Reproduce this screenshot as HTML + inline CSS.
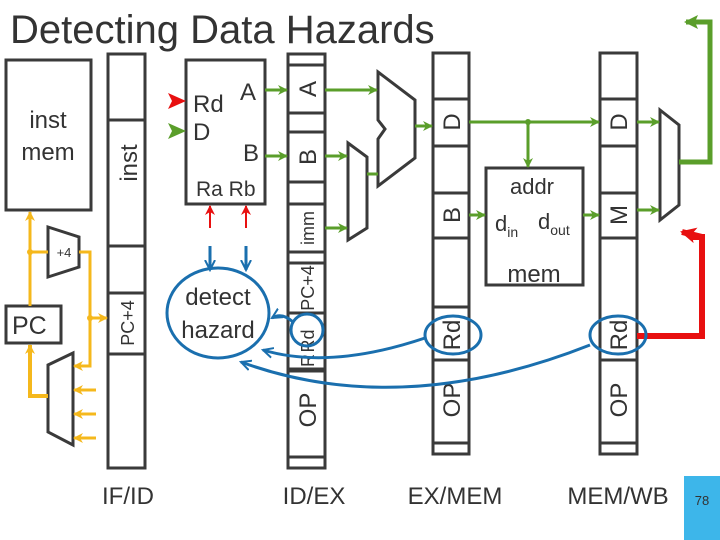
<!DOCTYPE html>
<html><head><meta charset="utf-8"><style>
html,body{margin:0;padding:0;background:#fff;}
svg{display:block;font-family:"Liberation Sans",Arial,sans-serif;}
</style></head><body>
<svg width="720" height="540" viewBox="0 0 720 540" xmlns="http://www.w3.org/2000/svg">
<defs>
<marker id="ag" markerWidth="10" markerHeight="10" refX="9" refY="5" orient="auto" markerUnits="userSpaceOnUse"><path d="M0,0 L10,5 L0,10 L3,5 z" fill="#5a9e2a"/></marker>
<marker id="ag2" markerWidth="14" markerHeight="14" refX="12" refY="7" orient="auto" markerUnits="userSpaceOnUse"><path d="M0,0 L14,7 L0,14 L3,7 z" fill="#5a9e2a"/></marker>
<marker id="ay" markerWidth="10" markerHeight="10" refX="9" refY="5" orient="auto" markerUnits="userSpaceOnUse"><path d="M0,0 L10,5 L0,10 L3,5 z" fill="#f5b81c"/></marker>
<marker id="ar" markerWidth="10" markerHeight="10" refX="9" refY="5" orient="auto" markerUnits="userSpaceOnUse"><path d="M0,0 L10,5 L0,10 L3,5 z" fill="#e81010"/></marker>
<marker id="ar2" markerWidth="16" markerHeight="16" refX="14" refY="8" orient="auto" markerUnits="userSpaceOnUse"><path d="M0,0 L16,8 L0,16 L4,8 z" fill="#e81010"/></marker>
<marker id="ab" markerWidth="12" markerHeight="12" refX="10" refY="6" orient="auto" markerUnits="userSpaceOnUse"><path d="M0,1 L10,6 L0,11" fill="none" stroke="#1a6fae" stroke-width="2"/></marker>
</defs>
<text x="10" y="43" font-size="40" fill="#333">Detecting Data Hazards</text>

<g fill="none" stroke="#3a3a3a" stroke-width="3">
<rect x="6" y="60" width="85" height="150" fill="#fff"/>
<rect x="108" y="54" width="37" height="414" fill="#fff"/>
<line x1="108" y1="120" x2="145" y2="120"/><line x1="108" y1="246" x2="145" y2="246"/>
<line x1="108" y1="293" x2="145" y2="293"/><line x1="108" y1="354" x2="145" y2="354"/>
<rect x="186" y="60" width="79" height="144" fill="#fff"/>
<rect x="288" y="54" width="37" height="414" fill="#fff"/>
<g><line x1="288" y1="65" x2="325" y2="65"/><line x1="288" y1="113" x2="325" y2="113"/><line x1="288" y1="132" x2="325" y2="132"/><line x1="288" y1="182" x2="325" y2="182"/><line x1="288" y1="204" x2="325" y2="204"/><line x1="288" y1="252" x2="325" y2="252"/><line x1="288" y1="263" x2="325" y2="263"/><line x1="288" y1="313" x2="325" y2="313"/><line x1="288" y1="370" x2="325" y2="370" stroke-width="5"/><line x1="288" y1="457" x2="325" y2="457"/></g>
<rect x="433" y="53" width="36" height="401" fill="#fff"/>
<g><line x1="433" y1="99" x2="469" y2="99"/><line x1="433" y1="146" x2="469" y2="146"/><line x1="433" y1="193" x2="469" y2="193"/><line x1="433" y1="238" x2="469" y2="238"/><line x1="433" y1="307" x2="469" y2="307"/><line x1="433" y1="360" x2="469" y2="360"/><line x1="433" y1="443" x2="469" y2="443"/></g>
<rect x="600" y="53" width="37" height="401" fill="#fff"/>
<g><line x1="600" y1="99" x2="637" y2="99"/><line x1="600" y1="146" x2="637" y2="146"/><line x1="600" y1="193" x2="637" y2="193"/><line x1="600" y1="238" x2="637" y2="238"/><line x1="600" y1="360" x2="637" y2="360"/><line x1="600" y1="443" x2="637" y2="443"/></g>
<rect x="486" y="168" width="97" height="117" fill="#fff"/>
<polygon points="348,143 367,157 367,228 348,240" fill="#fff"/>
<polygon points="378,72 415,100 415,158 378,186 378,139 385,129 378,120" fill="#fff"/>
<polygon points="660,110 679,125 679,205 660,220" fill="#fff"/>
<polygon points="48,227 79,237 79,267 48,277" fill="#fff"/>
<rect x="6" y="306" width="55" height="37" fill="#fff"/>
<polygon points="73,353 48,365 48,432 73,445" fill="#fff"/>
</g>

<g fill="#333" font-size="24">
<text x="48" y="128" text-anchor="middle">inst</text>
<text x="48" y="160" text-anchor="middle">mem</text>
<text x="193" y="112">Rd</text><text x="193" y="140">D</text>
<text x="240" y="100">A</text><text x="243" y="161">B</text>
<text x="196" y="196" font-size="21">Ra Rb</text>
<text x="12" y="334" font-size="25">PC</text>
<text x="64" y="257" font-size="13" text-anchor="middle">+4</text>
<text transform="translate(137,163) rotate(-90)" text-anchor="middle">inst</text>
<text transform="translate(134,323) rotate(-90)" text-anchor="middle" font-size="18">PC+4</text>
<text transform="translate(316,89) rotate(-90)" text-anchor="middle">A</text>
<text transform="translate(316,157) rotate(-90)" text-anchor="middle">B</text>
<text transform="translate(314,228) rotate(-90)" text-anchor="middle" font-size="18">imm</text>
<text transform="translate(314,288) rotate(-90)" text-anchor="middle" font-size="18">PC+4</text>
<text transform="translate(314,341) rotate(-90)" text-anchor="middle" font-size="18">Rd</text>
<text transform="translate(314,367) rotate(-90)" font-size="18">R</text>
<text transform="translate(316,410) rotate(-90)" text-anchor="middle">OP</text>
<text transform="translate(460,122) rotate(-90)" text-anchor="middle">D</text>
<text transform="translate(460,215) rotate(-90)" text-anchor="middle">B</text>
<text transform="translate(460,335) rotate(-90)" text-anchor="middle">Rd</text>
<text transform="translate(460,400) rotate(-90)" text-anchor="middle">OP</text>
<text transform="translate(627,122) rotate(-90)" text-anchor="middle">D</text>
<text transform="translate(627,215) rotate(-90)" text-anchor="middle">M</text>
<text transform="translate(627,335) rotate(-90)" text-anchor="middle">Rd</text>
<text transform="translate(627,400) rotate(-90)" text-anchor="middle">OP</text>
<text x="532" y="194" text-anchor="middle" font-size="22">addr</text>
<text x="495" y="231" font-size="22">d<tspan font-size="14" dy="6">in</tspan></text>
<text x="538" y="229" font-size="22">d<tspan font-size="14" dy="6">out</tspan></text>
<text x="534" y="282" text-anchor="middle" font-size="24">mem</text>
<text x="218" y="305" text-anchor="middle">detect</text>
<text x="218" y="338" text-anchor="middle">hazard</text>
<text x="128" y="504" text-anchor="middle">IF/ID</text>
<text x="314" y="504" text-anchor="middle">ID/EX</text>
<text x="455" y="504" text-anchor="middle">EX/MEM</text>
<text x="618" y="504" text-anchor="middle">MEM/WB</text>
</g>

<g stroke="#5a9e2a" stroke-width="3" fill="none" marker-end="url(#ag)">
<line x1="265" y1="90" x2="287" y2="90"/><line x1="325" y1="90" x2="377" y2="90"/>
<line x1="265" y1="156" x2="287" y2="156"/><line x1="325" y1="156" x2="347" y2="156"/>
<line x1="325" y1="228" x2="347" y2="228"/>
<line x1="415" y1="126" x2="432" y2="126"/>
<line x1="469" y1="122" x2="599" y2="122"/><line x1="528" y1="122" x2="528" y2="167"/>
<line x1="469" y1="215" x2="485" y2="215"/><line x1="583" y1="215" x2="599" y2="215"/>
<line x1="637" y1="122" x2="659" y2="122"/><line x1="637" y1="210" x2="659" y2="210"/>
</g>
<polygon points="168,123 186,131 168,139 172,131" fill="#5a9e2a"/>
<polygon points="168,93 186,101 168,109 172,101" fill="#e81010"/>
<line x1="367" y1="174" x2="378" y2="174" stroke="#5a9e2a" stroke-width="3"/>
<circle cx="528" cy="122" r="3" fill="#5a9e2a"/>
<polyline points="679,162 710,162 710,22 686,22" fill="none" stroke="#5a9e2a" stroke-width="5" marker-end="url(#ag2)"/>

<g stroke="#e81010" stroke-width="2" fill="none" marker-end="url(#ar)">
<line x1="210" y1="228" x2="210" y2="206"/><line x1="246" y1="228" x2="246" y2="206"/>
</g>
<polyline points="637,336 702,336 702,237 682,232" fill="none" stroke="#e81010" stroke-width="6" marker-end="url(#ar2)"/>
<polyline points="637,336 702,336 702,237 690,237" fill="none" stroke="#e81010" stroke-width="6"/>

<g stroke="#f5b81c" stroke-width="3" fill="none">
<line x1="30" y1="306" x2="30" y2="212" marker-end="url(#ay)"/>
<line x1="30" y1="252" x2="48" y2="252"/>
<polyline points="79,252 90,252 90,366 74,366" marker-end="url(#ay)"/>
<line x1="90" y1="318" x2="107" y2="318" marker-end="url(#ay)"/>
<line x1="96" y1="390" x2="74" y2="390" marker-end="url(#ay)"/>
<line x1="96" y1="414" x2="74" y2="414" marker-end="url(#ay)"/>
<line x1="96" y1="438" x2="74" y2="438" marker-end="url(#ay)"/>
<polyline points="48,396 30,396 30,345" stroke-width="4" marker-end="url(#ay)"/>
</g>
<circle cx="30" cy="252" r="3" fill="#f5b81c"/><circle cx="90" cy="318" r="3" fill="#f5b81c"/>

<g stroke="#1a6fae" stroke-width="3" fill="none">
<ellipse cx="218" cy="313" rx="51" ry="45"/>
<circle cx="307" cy="330" r="16"/>
<ellipse cx="453" cy="335" rx="28" ry="19"/>
<ellipse cx="618" cy="335" rx="28" ry="19"/>
<line x1="210" y1="246" x2="210" y2="270" marker-end="url(#ab)"/>
<line x1="246" y1="246" x2="246" y2="270" marker-end="url(#ab)"/>
<path d="M293,322 Q282,312 272,318" marker-end="url(#ab)"/>
<path d="M425,338 Q330,370 263,350" marker-end="url(#ab)"/>
<path d="M590,345 Q400,420 241,362" marker-end="url(#ab)"/>
</g>

<rect x="684" y="476" width="36" height="64" fill="#3db6ea"/>
<text x="702" y="505" text-anchor="middle" font-size="13" fill="#333">78</text>
</svg>
</body></html>
